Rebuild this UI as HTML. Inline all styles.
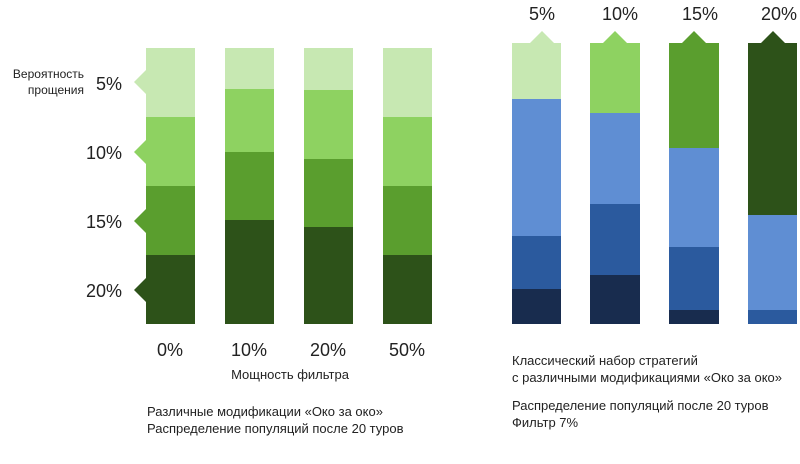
<!DOCTYPE html><html><head><meta charset="utf-8"><style>body{margin:0;background:#fff}</style></head><body>
<svg width="800" height="459" xmlns="http://www.w3.org/2000/svg" font-family="Liberation Sans, sans-serif" fill="#222">
<g>
<rect x="146" y="48" width="49" height="69" fill="#c7e8b2"/><rect x="146" y="117" width="49" height="69" fill="#8ed261"/><rect x="146" y="186" width="49" height="69" fill="#5a9e2e"/><rect x="146" y="255" width="49" height="69" fill="#2d5219"/>
<polygon points="146,70 134,82 146,94" fill="#c7e8b2"/><polygon points="146,140 134,152 146,164" fill="#8ed261"/><polygon points="146,209 134,221 146,233" fill="#5a9e2e"/><polygon points="146,278 134,290 146,302" fill="#2d5219"/>
<rect x="225" y="48" width="49" height="41" fill="#c7e8b2"/><rect x="225" y="89" width="49" height="63" fill="#8ed261"/><rect x="225" y="152" width="49" height="68" fill="#5a9e2e"/><rect x="225" y="220" width="49" height="104" fill="#2d5219"/>
<rect x="304" y="48" width="49" height="42" fill="#c7e8b2"/><rect x="304" y="90" width="49" height="69" fill="#8ed261"/><rect x="304" y="159" width="49" height="68" fill="#5a9e2e"/><rect x="304" y="227" width="49" height="97" fill="#2d5219"/>
<rect x="383" y="48" width="49" height="69" fill="#c7e8b2"/><rect x="383" y="117" width="49" height="69" fill="#8ed261"/><rect x="383" y="186" width="49" height="69" fill="#5a9e2e"/><rect x="383" y="255" width="49" height="69" fill="#2d5219"/>
</g>
<g font-size="18" text-anchor="end"><text x="122" y="90">5%</text><text x="122" y="159">10%</text><text x="122" y="228">15%</text><text x="122" y="297">20%</text></g>
<g font-size="12" text-anchor="end"><text x="84" y="78">Вероятность</text><text x="84" y="94">прощения</text></g>
<g font-size="18" text-anchor="middle"><text x="170" y="356">0%</text><text x="249" y="356">10%</text><text x="328" y="356">20%</text><text x="407" y="356">50%</text></g>
<text x="290" y="379" font-size="13" text-anchor="middle">Мощность фильтра</text>
<text x="147" y="416" font-size="13">Различные модификации «Око за око»</text>
<text x="147" y="433" font-size="13">Распределение популяций после 20 туров</text>
<g>
<polygon points="530,43 542,31 554,43" fill="#c7e8b2"/><rect x="512" y="43" width="49" height="56" fill="#c7e8b2"/><rect x="512" y="99" width="49" height="137" fill="#5f8ed3"/><rect x="512" y="236" width="49" height="53" fill="#2b5a9e"/><rect x="512" y="289" width="49" height="35" fill="#182c4e"/>
<polygon points="603,43 615,31 627,43" fill="#8ed261"/><rect x="590" y="43" width="50" height="70" fill="#8ed261"/><rect x="590" y="113" width="50" height="91" fill="#5f8ed3"/><rect x="590" y="204" width="50" height="71" fill="#2b5a9e"/><rect x="590" y="275" width="50" height="49" fill="#182c4e"/>
<polygon points="682,43 694,31 706,43" fill="#5a9e2e"/><rect x="669" y="43" width="50" height="105" fill="#5a9e2e"/><rect x="669" y="148" width="50" height="99" fill="#5f8ed3"/><rect x="669" y="247" width="50" height="63" fill="#2b5a9e"/><rect x="669" y="310" width="50" height="14" fill="#182c4e"/>
<polygon points="761,43 773,31 785,43" fill="#2d5219"/><rect x="748" y="43" width="49" height="172" fill="#2d5219"/><rect x="748" y="215" width="49" height="95" fill="#5f8ed3"/><rect x="748" y="310" width="49" height="14" fill="#2b5a9e"/>
</g>
<g font-size="18" text-anchor="middle"><text x="542" y="20">5%</text><text x="620" y="20">10%</text><text x="700" y="20">15%</text><text x="779" y="20">20%</text></g>
<g font-size="13"><text x="512" y="365">Классический набор стратегий</text><text x="512" y="382">с различными модификациями «Око за око»</text><text x="512" y="410">Распределение популяций после 20 туров</text><text x="512" y="427">Фильтр 7%</text></g>
</svg></body></html>
